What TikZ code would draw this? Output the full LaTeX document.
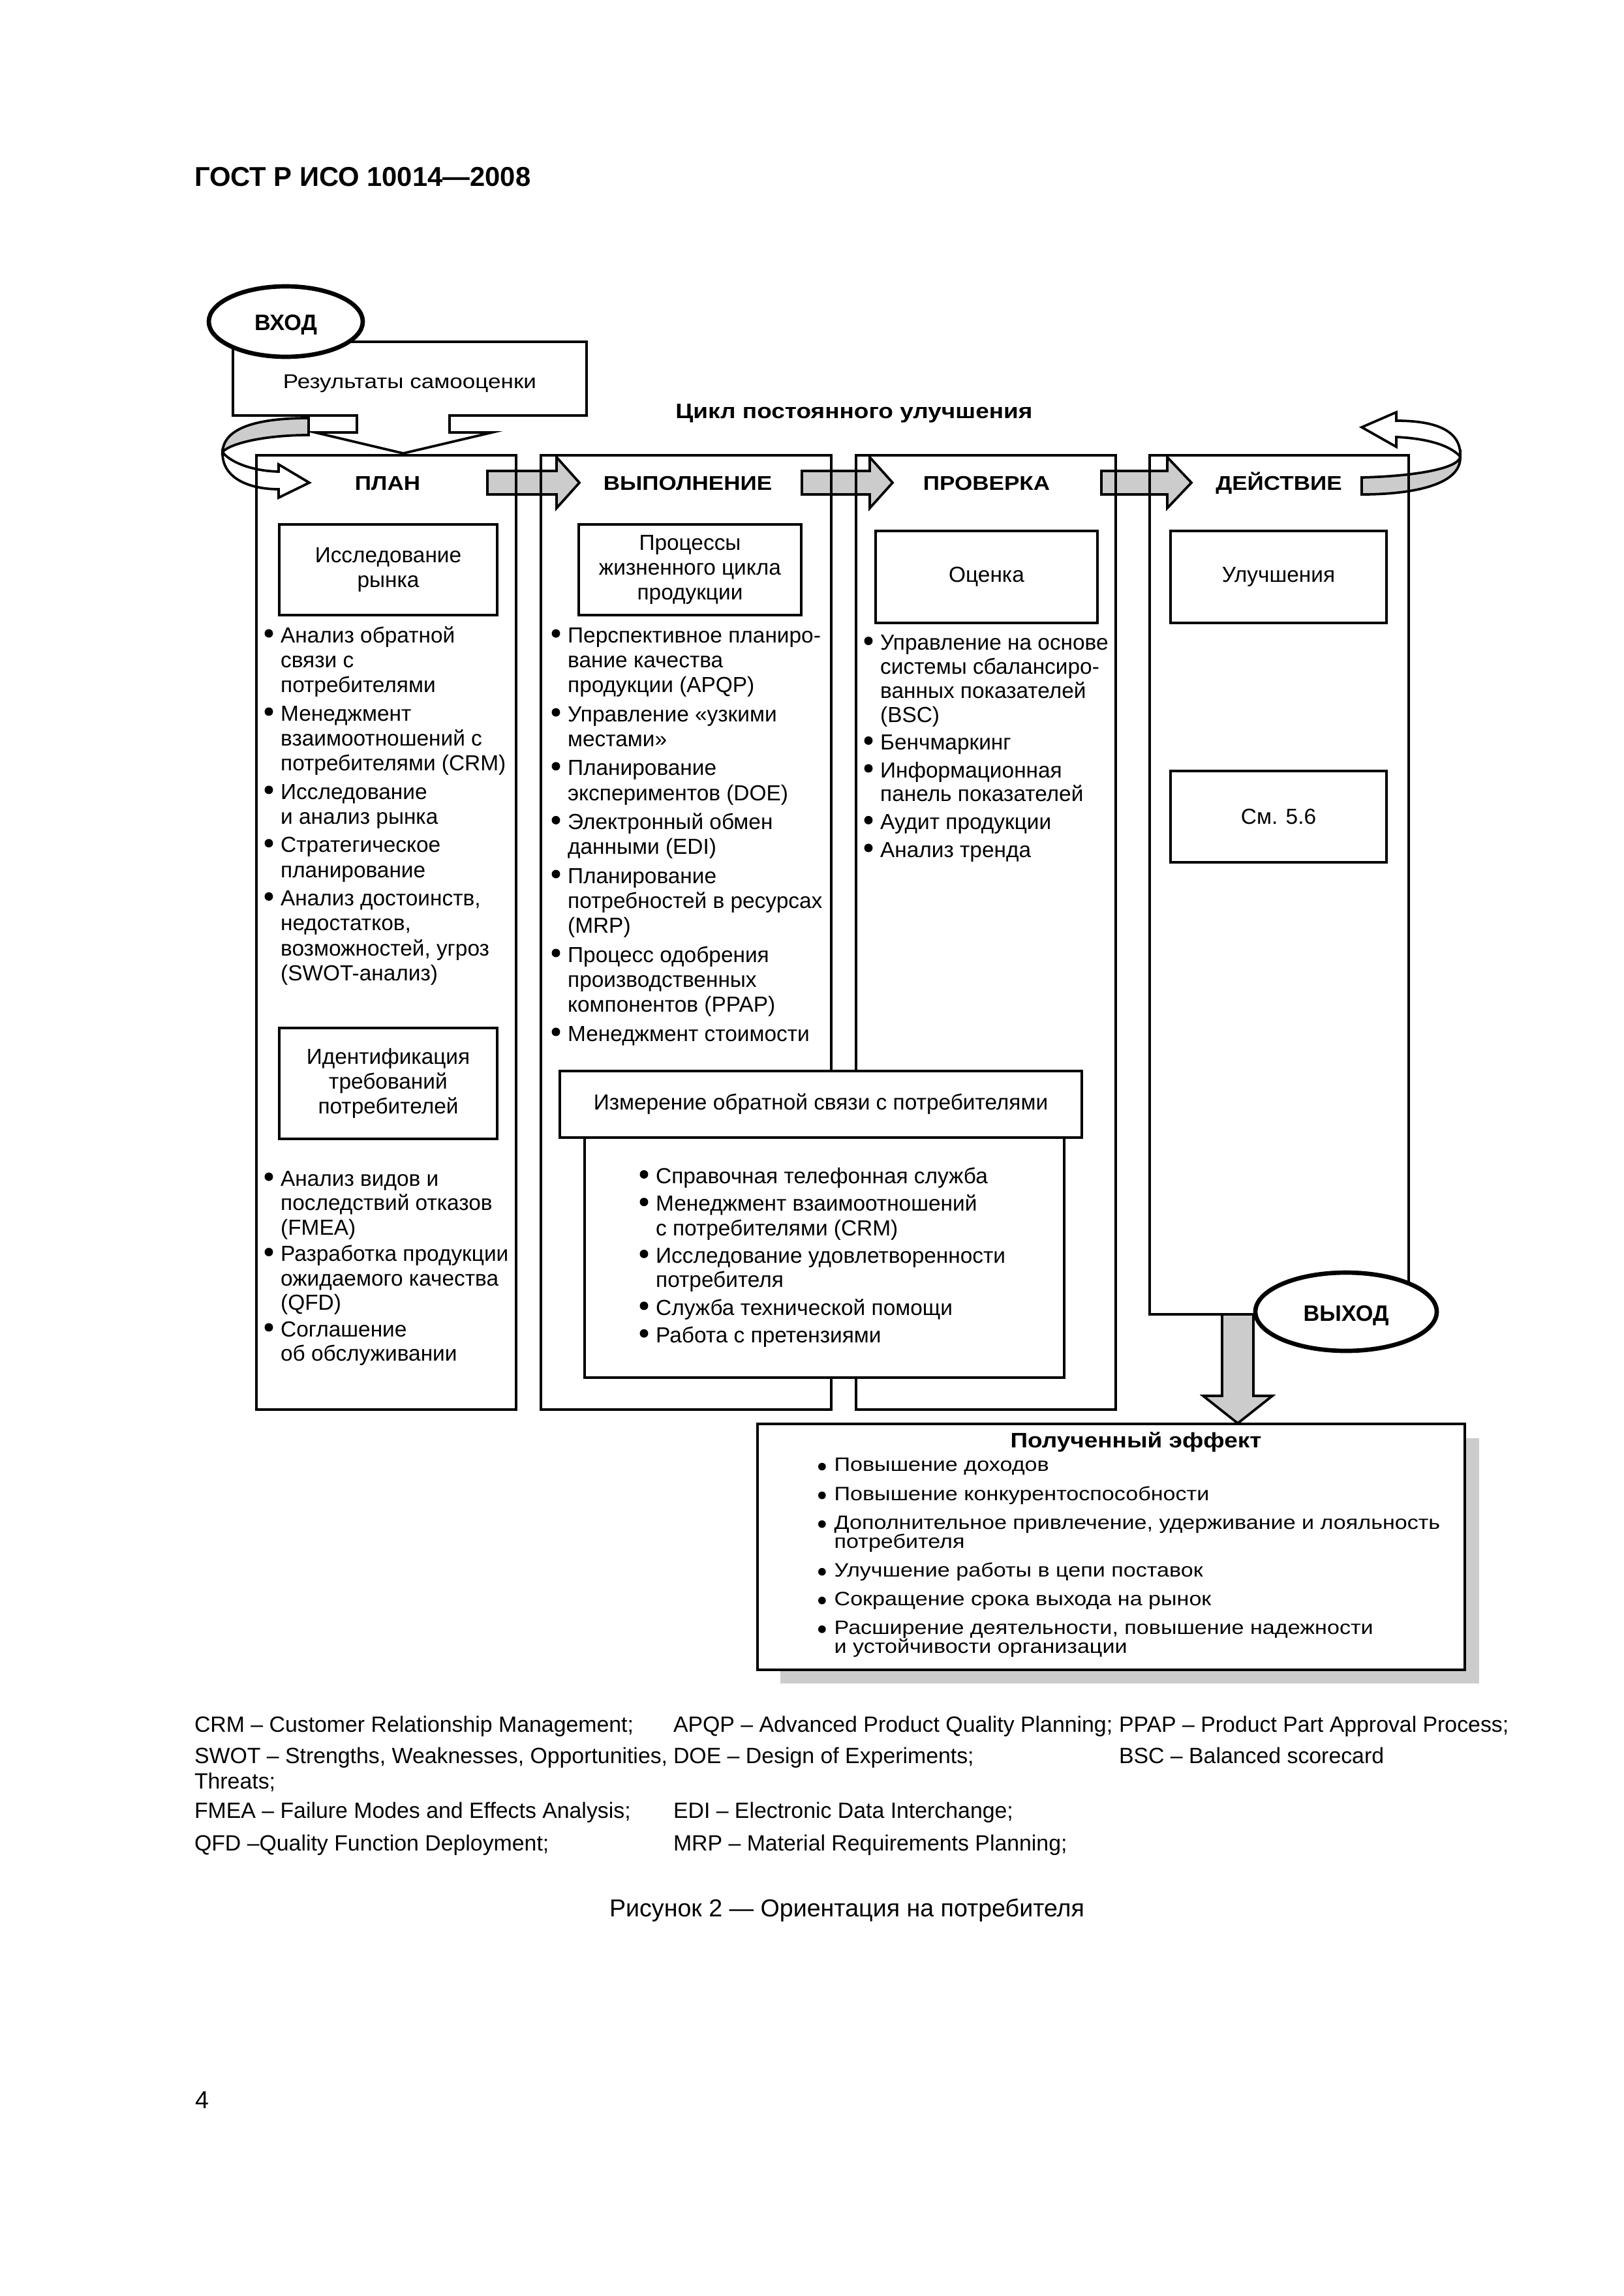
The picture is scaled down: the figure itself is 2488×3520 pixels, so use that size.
\documentclass[tikz,border=0pt]{standalone}
\usepackage{fontspec}
\setmainfont{Liberation Sans}
\newfontfamily\widefont{Liberation Sans}[FakeStretch=1.15]
\usetikzlibrary{shapes.geometric}
\definecolor{gfill}{gray}{0.8}
\newcommand\PX{0.23942pt}
\newlength\bind \setlength\bind{5.9pt}
\newlength\isep
\newlength\braise \setlength\braise{1.85pt}
\newlength\brad \setlength\brad{1.55pt}
\newcommand\bul{\raisebox{\braise}{\tikz\fill (0,0) circle (\brad);}}
\newcommand\bl{\makebox[\bind][l]{\bul}}
\newcommand\lsp[3]{\fontsize{#1}{#2}\selectfont\setlength\isep{#3pt}}
\begin{document}
\begin{tikzpicture}[x=0.23942pt, y=-0.23942pt, line join=miter,
  every node/.style={inner sep=0pt, outer sep=0pt},
  frm/.style={draw, line width=0.9pt},
  ibox/.style={draw, line width=0.9pt, fill=white, align=center, font=\fontsize{8}{9.1}\selectfont},
  garrow/.style={draw, line width=0.9pt, fill=gfill},
  wrib/.style={draw, line width=0.9pt, fill=white},
  oval/.style={draw, ellipse, line width=1.6pt, fill=white},
  lst/.style={anchor=north west},
  hdr/.style={anchor=base, font=\widefont\bfseries\fontsize{7.3}{9}\selectfont},
  fnote/.style={anchor=base west, font=\fontsize{8.1}{9.5}\selectfont},
]
\fill[white] (0,0) rectangle (2488,3520);
\useasboundingbox (0,0) rectangle (2488,3520);

% header
\node[anchor=base west, font=\bfseries\fontsize{10}{12}\selectfont] (gost) at (298,285) {ГОСТ Р ИСО 10014—2008};

% input callout
\draw[wrib] (357,524) -- (899,524) -- (899,637) -- (689,637) -- (689,663) -- (754,663) -- (618,695) -- (483,663) -- (547,663) -- (547,637) -- (357,637) -- cycle;
\node[anchor=base, font=\widefont\fontsize{7.3}{9}\selectfont] (selfres) at (628,595) {Результаты самооценки};
\node[oval, minimum width=236*\PX, minimum height=108*\PX] (inp) at (438,493) {};
\node[anchor=base, font=\bfseries\fontsize{8.2}{9}\selectfont] (inptxt) at (438,506) {ВХОД};

\node[anchor=base, font=\widefont\bfseries\fontsize{7.7}{9}\selectfont] (cycle) at (1309,641) {Цикл постоянного улучшения};

% columns (placeholders)
\node[anchor=north west, minimum width=398*\PX, minimum height=1463*\PX] (plan) at (393,698) {};
\node[anchor=north west, minimum width=445*\PX, minimum height=1463*\PX] (doo) at (829,698) {};
\node[anchor=north west, minimum width=398*\PX, minimum height=1463*\PX] (chk) at (1312,698) {};
\node[anchor=north west, minimum width=397*\PX, minimum height=1317*\PX] (act) at (1762,698) {};

% left ribbon
\filldraw[garrow] (473,641) .. controls (405,641) and (343,652) .. (341,693) .. controls (352,680) and (405,667) .. (473,667) -- cycle;
\filldraw[wrib] (341,693) .. controls (340,735) and (385,750) .. (427,750) -- (427,763) -- (474,740) -- (427,712) -- (427,723) .. controls (385,722) and (352,708) .. (341,693) -- cycle;
% right ribbon
\filldraw[garrow] (2087,732) .. controls (2170,730) and (2236,718) .. (2238,700) .. controls (2240,745) and (2160,758) .. (2087,758) -- cycle;
\filldraw[wrib] (2238,700) .. controls (2240,655) and (2190,645) .. (2140,645) -- (2140,632) -- (2087,655) -- (2140,685) -- (2140,670) .. controls (2185,672) and (2222,682) .. (2238,700) -- cycle;

% block arrows between columns
\filldraw[garrow] (747,722) -- (853,722) -- (853,701) -- (888,740) -- (853,779) -- (853,758) -- (747,758) -- cycle;
\filldraw[garrow] (1229,722) -- (1333,722) -- (1333,701) -- (1368,740) -- (1333,779) -- (1333,758) -- (1229,758) -- cycle;
\filldraw[garrow] (1688,722) -- (1789,722) -- (1789,701) -- (1826,740) -- (1789,779) -- (1789,758) -- (1688,758) -- cycle;

% column borders
\draw[frm] (plan.north west) rectangle (plan.south east);
\draw[frm] (doo.north west) rectangle (doo.south east);
\draw[frm] (chk.north west) rectangle (chk.south east);
\draw[frm] (act.north west) rectangle (act.south east);

% column headers
\node[hdr] (hplan) at (594,751) {ПЛАН};
\node[hdr] (hdo) at (1054,751) {ВЫПОЛНЕНИЕ};
\node[hdr] (hchk) at (1512,751) {ПРОВЕРКА};
\node[hdr] (hact) at (1960,751) {ДЕЙСТВИЕ};

% arrow down to effect
\filldraw[garrow] (1873,2015) -- (1921,2015) -- (1921,2140) -- (1950,2140) -- (1897,2182) -- (1844,2140) -- (1873,2140) -- cycle;

% inner boxes
\node[ibox, minimum width=334*\PX, minimum height=139*\PX] (mres) at (595,873.5) {Исследование\\рынка};
\node[ibox, minimum width=341*\PX, minimum height=139*\PX] (lcp) at (1057.5,873.5) {Процессы\\жизненного цикла\\продукции};
\node[ibox, minimum width=340*\PX, minimum height=141*\PX] (eval) at (1512,884.5) {Оценка};
\node[ibox, minimum width=331*\PX, minimum height=141*\PX] (impr) at (1959.5,884.5) {Улучшения};
\node[ibox, minimum width=331*\PX, minimum height=140*\PX] (see) at (1959.5,1252) {См. 5.6};
\node[ibox, minimum width=334*\PX, minimum height=170*\PX] (ident) at (595,1661) {Идентификация\\требований\\потребителей};
\node[ibox, minimum width=800*\PX, minimum height=102*\PX] (meas) at (1258,1693) {Измерение обратной связи с потребителями};
\node[draw, line width=0.9pt, fill=white, minimum width=735*\PX, minimum height=368*\PX] (fbl) at (1263.5,1928) {};

% output
\node[oval, minimum width=278*\PX, minimum height=120*\PX] (outp) at (2063,2011) {};
\node[anchor=base, font=\bfseries\fontsize{8.2}{9}\selectfont] (outtxt) at (2063,2025) {ВЫХОД};

% effect box
\fill[gfill] (1196,2205) rectangle (2267,2581);
\node[draw, line width=1.1pt, fill=white, minimum width=1084*\PX, minimum height=377*\PX] (eff) at (1703,2371.5) {};
\node[anchor=base, font=\widefont\bfseries\fontsize{7.7}{9}\selectfont] (efft) at (1741,2219) {Полученный эффект};

% lists
\node[lst] (l1) at (405.5,958.5) {\lsp{8}{9.15}{1.27}\begin{tabular}{@{}l@{}l@{}}
\bl&Анализ обратной\\&связи с\\&потребителями\\[\isep]
\bl&Менеджмент\\&взаимоотношений с\\&потребителями (CRM)\\[\isep]
\bl&Исследование\\&и анализ рынка\\[\isep]
\bl&Стратегическое\\&планирование\\[\isep]
\bl&Анализ достоинств,\\&недостатков,\\&возможностей, угроз\\&(SWOT-анализ)
\end{tabular}};

\node[lst] (l2) at (405.5,1792) {\lsp{8}{8.98}{0.7}\begin{tabular}{@{}l@{}l@{}}
\bl&Анализ видов и\\&последствий отказов\\&(FMEA)\\[\isep]
\bl&Разработка продукции\\&ожидаемого качества\\&(QFD)\\[\isep]
\bl&Соглашение\\&об обслуживании
\end{tabular}};

\node[lst] (l3) at (845.5,958.5) {\lsp{8}{9.17}{1.45}\begin{tabular}{@{}l@{}l@{}}
\bl&Перспективное планиро-\\&вание качества\\&продукции (APQP)\\[\isep]
\bl&Управление «узкими\\&местами»\\[\isep]
\bl&Планирование\\&экспериментов (DOE)\\[\isep]
\bl&Электронный обмен\\&данными (EDI)\\[\isep]
\bl&Планирование\\&потребностей в ресурсах\\&(MRP)\\[\isep]
\bl&Процесс одобрения\\&производственных\\&компонентов (PPAP)\\[\isep]
\bl&Менеджмент стоимости
\end{tabular}};

\node[lst] (l4) at (1324.5,971) {\lsp{8}{8.8}{1.4}\begin{tabular}{@{}l@{}l@{}}
\bl&Управление на основе\\&системы сбалансиро-\\&ванных показателей\\&(BSC)\\[\isep]
\bl&Бенчмаркинг\\[\isep]
\bl&Информационная\\&панель показателей\\[\isep]
\bl&Аудит продукции\\[\isep]
\bl&Анализ тренда
\end{tabular}};

\node[lst] (l5) at (980.5,1788.5) {\lsp{8}{8.93}{1.2}\begin{tabular}{@{}l@{}l@{}}
\bl&Справочная телефонная служба\\[\isep]
\bl&Менеджмент взаимоотношений\\&с потребителями (CRM)\\[\isep]
\bl&Исследование удовлетворенности\\&потребителя\\[\isep]
\bl&Служба технической помощи\\[\isep]
\bl&Работа с претензиями
\end{tabular}};

\node[lst] (l6) at (1254,2233.2) {\widefont\lsp{7.1}{6.95}{3.6}\setbox\strutbox\hbox{\vrule height5.45pt depth1.5pt width0pt}\setlength\braise{0.4pt}\setlength\brad{1.4pt}\begin{tabular}{@{}l@{}l@{}}
\bl&Повышение доходов\\[\isep]
\bl&Повышение конкурентоспособности\\[\isep]
\bl&Дополнительное привлечение, удерживание и лояльность\\&потребителя\\[\isep]
\bl&Улучшение работы в цепи поставок\\[\isep]
\bl&Сокращение срока выхода на рынок\\[\isep]
\bl&Расширение деятельности, повышение надежности\\&и устойчивости организации
\end{tabular}};

% footnotes
\node[fnote] (f1) at (298,2655) {CRM – Customer Relationship Management;};
\node[fnote] (f2) at (1032,2655) {APQP – Advanced Product Quality Planning;};
\node[fnote] (f3) at (1715,2655) {PPAP – Product Part Approval Process;};
\node[fnote] (f4) at (298,2703) {SWOT – Strengths, Weaknesses, Opportunities,};
\node[fnote] (f5) at (1032,2703) {DOE – Design of Experiments;};
\node[fnote] (f6) at (1715,2703) {BSC – Balanced scorecard};
\node[fnote] (f7) at (298,2742) {Threats;};
\node[fnote] (f8) at (298,2787) {FMEA – Failure Modes and Effects Analysis;};
\node[fnote] (f9) at (1032,2787) {EDI – Electronic Data Interchange;};
\node[fnote] (f10) at (298,2837) {QFD –Quality Function Deployment;};
\node[fnote] (f11) at (1032,2837) {MRP – Material Requirements Planning;};

\node[anchor=base, font=\fontsize{9}{11}\selectfont] (capt) at (1298,2938) {Рисунок 2 — Ориентация на потребителя};
\node[anchor=base west, font=\fontsize{9}{11}\selectfont] (pg) at (299,3232) {4};
\end{tikzpicture}
\end{document}
